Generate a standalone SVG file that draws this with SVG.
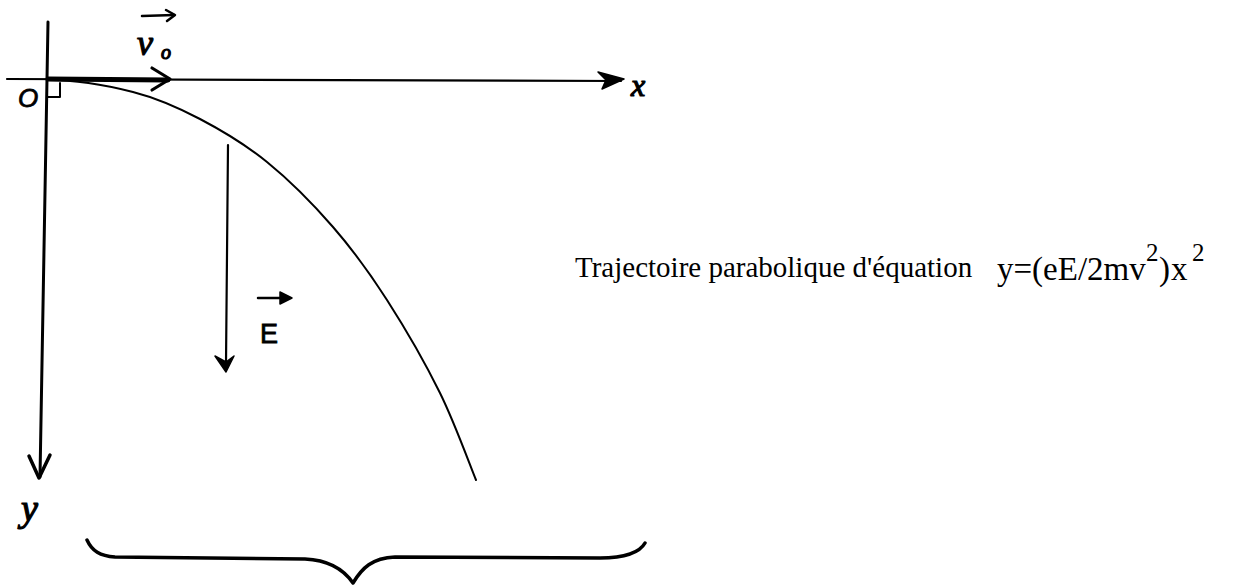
<svg xmlns="http://www.w3.org/2000/svg" width="1239" height="587" viewBox="0 0 1239 587">
<style>
.ln{fill:none;stroke:#000;stroke-linecap:round;stroke-linejoin:round}
.hand{font-family:"Liberation Serif",serif;font-style:italic;fill:#000;stroke:#000;stroke-width:1.2}
.sans{font-family:"Liberation Sans",sans-serif;fill:#000;stroke:#000;stroke-width:0.8}
.txt{font-family:"Liberation Serif",serif;fill:#000}
</style>
<rect width="1239" height="587" fill="#fff"/>
<g id="connectors">
  <g id="y-axis">
    <path class="ln" d="M48,22 L40,477" stroke-width="3"/>
    <path class="ln" d="M29,456 L39,478 L50,455" stroke-width="3.5"/>
  </g>
  <g id="x-axis">
    <path class="ln" d="M7,79 L621,81" stroke-width="2.2"/>
    <path d="M598,72 L624,79 L602,89 L606,80 Z" fill="#000" stroke="#000" stroke-width="1.5" stroke-linejoin="round"/>
  </g>
  <g id="v0-arrow">
    <path class="ln" d="M48,79 L168,80" stroke-width="5"/>
    <path class="ln" d="M152,68 L170,79 L152,90" stroke-width="3.2"/>
  </g>
  <g id="E-arrow">
    <path class="ln" d="M228,145 L226,364" stroke-width="2.2"/>
    <path d="M215,356 L226,372 L234,356 L226,362 Z" fill="#000" stroke="#000" stroke-width="1.5" stroke-linejoin="round"/>
  </g>
  <g id="trajectory">
    <path class="ln" stroke-width="2" d="M48,80 C75,80 107.7,85.5 133,92 C158.3,98.5 177.7,107.3 200,119 C222.3,130.7 244.8,144 267,162 C289.2,180 313,204 333,227 C353,250 369.2,272.3 387,300 C404.8,327.7 425.2,363 440,393 C454.8,423 470,465.5 476,480"/>
  </g>
  <g id="right-angle">
    <path class="ln" d="M48,97 L60,97 L60,83" stroke-width="2"/>
  </g>
  <g id="brace">
    <path class="ln" stroke-width="3.5" d="M87,540 C92,551 100,556 115,557 L305,559 C328,560 344,570 353,583 C362,568 372,558 395,557 L600,558 C625,558 640,552 645,543"/>
  </g>
</g>
<g id="label-O"><text class="sans" x="18" y="107" font-size="26" font-style="italic">O</text></g>
<g id="label-x"><text class="hand" x="631" y="96" font-size="32">x</text></g>
<g id="label-y"><text class="hand" x="21" y="521" font-size="38">y</text></g>
<g id="label-v0">
  <path class="ln" d="M142,16 L174,15" stroke-width="2.5"/>
  <path class="ln" d="M166,10 L175,15 L167,21" stroke-width="2.5"/>
  <text class="hand" x="137" y="55" font-size="36">v</text>
  <text class="hand" x="161" y="59" font-size="20">o</text>
</g>
<g id="label-E">
  <path class="ln" d="M258,298 L283,298" stroke-width="2.5"/>
  <path d="M280,292 L292,298 L280,304 Z" fill="#000" stroke="#000" stroke-width="1.5" stroke-linejoin="round"/>
  <text class="sans" x="260" y="343" font-size="27">E</text>
</g>
<g id="caption">
  <text class="txt" x="575" y="277" font-size="29">Trajectoire parabolique d'équation</text>
  <text class="txt" x="997" y="280" font-size="33">y=(eE/2mv<tspan x="1146" y="261" font-size="25">2</tspan><tspan x="1159" y="280">)</tspan><tspan x="1171" y="280">x</tspan><tspan x="1192" y="261" font-size="25">2</tspan></text>
</g>
</svg>
